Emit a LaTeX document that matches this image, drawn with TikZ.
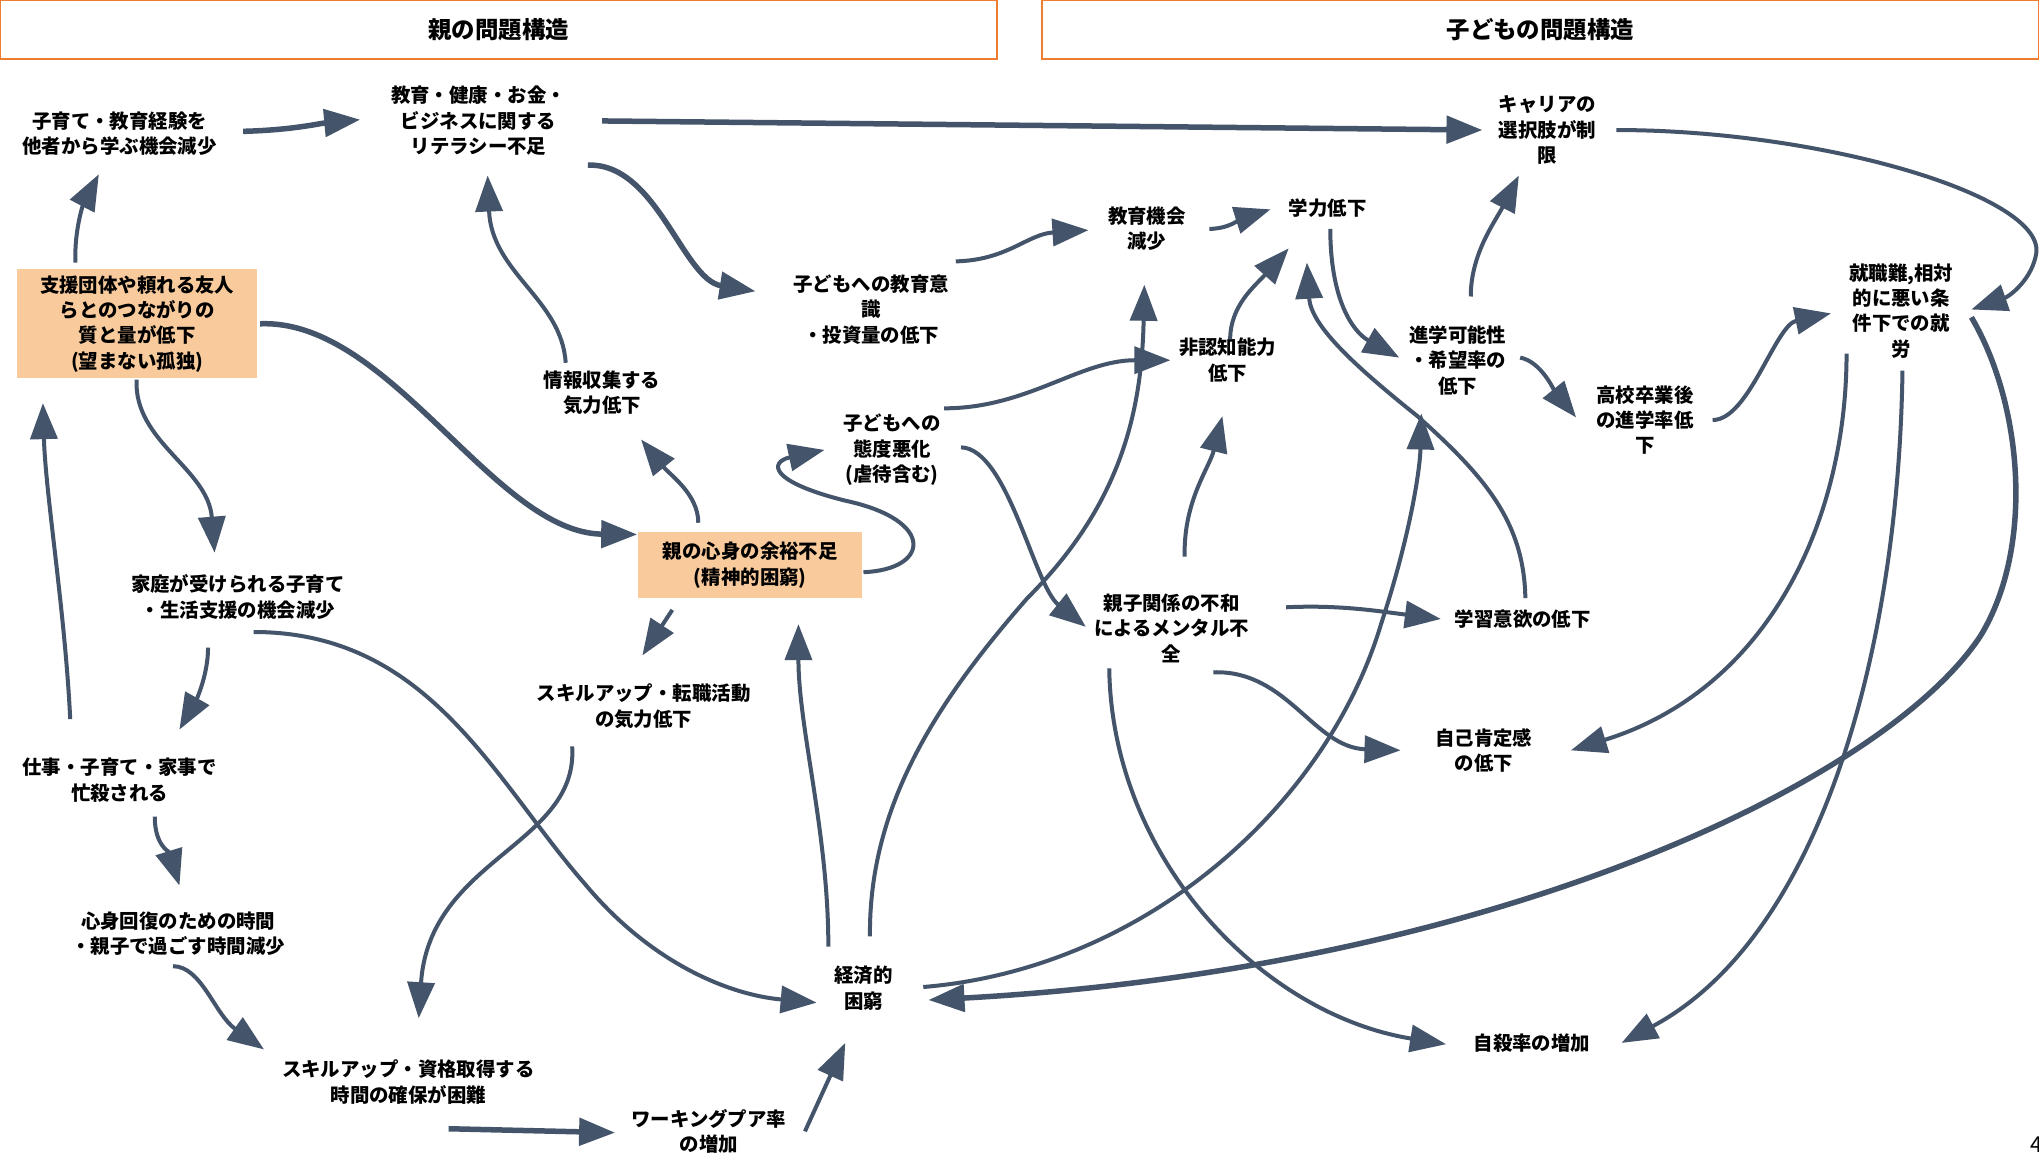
\documentclass[tikz,border=0pt]{standalone}
\usepackage{fontspec}
\setmainfont{Noto Sans CJK JP}
\usetikzlibrary{arrows.meta,calc}
\definecolor{lnc}{HTML}{44546A}
\definecolor{boxc}{HTML}{F9CB9C}
\definecolor{hdrc}{HTML}{ED7D31}
\begin{document}
\begin{tikzpicture}[x=1.3004bp,y=-1.3004bp,
  lbl/.style={align=center,font=\fontsize{19.5}{25.5}\selectfont\bfseries,inner sep=0pt},
  hl/.style={lbl,fill=boxc},
  hdrbox/.style={draw=hdrc,line width=2bp,fill=white,minimum width=997.4bp,minimum height=58.5bp,font=\fontsize{23.5}{26}\selectfont\bfseries},
  con/.style={draw=lnc,line width=4bp,-{Triangle[length=36bp,width=27bp]}},
  thk/.style={con,line width=5.5bp}
]
\useasboundingbox[fill=white] (0,0) rectangle (1568,891);
% headers
\node[hdrbox] (h1) at (383.5,22.5) {親の問題構造};
\node[hdrbox] (h2) at (1184.5,22.5) {子どもの問題構造};
% nodes
\node[lbl] (n1) at (92,103) {子育て・教育経験を\\他者から学ぶ機会減少};
\node[lbl] (n2) at (368,93) {教育・健康・お金・\\ビジネスに関する\\リテラシー不足};
\node[hl,minimum width=240.6bp,minimum height=109.2bp] (n3) at (105.5,249) {支援団体や頼れる友人\\らとのつながりの\\質と量が低下\\(望まない孤独)};
\node[lbl] (n4) at (463,302) {情報収集する\\気力低下};
\node[lbl] (n5) at (670,238) {子どもへの教育意\\識\\・投資量の低下};
\node[lbl] (n6) at (882,176) {教育機会\\減少};
\node[lbl] (n7) at (1021,160) {学力低下};
\node[lbl] (n8) at (1190,100) {キャリアの\\選択肢が制\\限};
\node[lbl] (n9) at (944,277) {非認知能力\\低下};
\node[lbl] (n10) at (1121,277) {進学可能性\\・希望率の\\低下};
\node[lbl] (n11) at (1265,323) {高校卒業後\\の進学率低\\下};
\node[lbl] (n12) at (1462,239) {就職難,相対\\的に悪い条\\件下での就\\労};
\node[lbl] (n13) at (686,346) {子どもへの\\態度悪化\\(虐待含む)};
\node[hl,minimum width=223.7bp,minimum height=66.3bp] (n14) at (577,434.5) {親の心身の余裕不足\\(精神的困窮)};
\node[lbl] (n15) at (183,459) {家庭が受けられる子育て\\・生活支援の機会減少};
\node[lbl] (n16) at (495,543) {スキルアップ・転職活動\\の気力低下};
\node[lbl] (n17) at (901,483) {親子関係の不和\\によるメンタル不\\全};
\node[lbl] (n18) at (1171,476) {学習意欲の低下};
\node[lbl] (n19) at (1141,577) {自己肯定感\\の低下};
\node[lbl] (n20) at (92,600) {仕事・子育て・家事で\\忙殺される};
\node[lbl] (n21) at (137,718) {心身回復のための時間\\・親子で過ごす時間減少};
\node[lbl] (n22) at (664,760) {経済的\\困窮};
\node[lbl] (n23) at (1178,802) {自殺率の増加};
\node[lbl] (n24) at (314,832) {スキルアップ・資格取得する\\時間の確保が困難};
\node[lbl] (n25) at (545,870) {ワーキングプア率\\の増加};
\node[font=\fontsize{22}{24}\selectfont,anchor=west,inner sep=0pt] (pg) at (1561,880) {4};
% connectors
\draw[thk] ($(n1)+(95,-2)$) .. controls (225,100) and (245,95) .. ($(n2)+(-91,-1)$);
\draw[thk] ($(n2)+(95,0)$) -- ($(n8)+(-50,0)$);
\draw[thk] ($(n2)+(84,34)$) .. controls (505,125) and (525,215) .. ($(n5)+(-89,-14)$);
\draw[con] ($(n3)+(-47.5,-47)$) .. controls (57,175) and (65,155) .. ($(n1)+(-16,31)$);
\draw[con] ($(n20)+(-38,-47)$) .. controls (50,470) and (35,380) .. ($(n3)+(-72.5,61)$);
\draw[con] ($(n3)+(-0.5,43)$) .. controls (103,340) and (160,360) .. ($(n15)+(-18,-34)$);
\draw[thk] ($(n3)+(94.5,0)$) .. controls (300,245) and (380,410) .. ($(n14)+(-87,-23.5)$);
\draw[con] ($(n14)+(-40,-32.5)$) .. controls (537,380) and (515,365) .. ($(n4)+(30,36)$);
\draw[con] ($(n4)+(-28,-23)$) .. controls (432,230) and (378,210) .. ($(n2)+(7,42)$);
\draw[con] ($(n5)+(65,-37)$) .. controls (775,200) and (790,180) .. ($(n6)+(-45,1)$);
\draw[con] ($(n6)+(48,0)$) .. controls (945,176) and (955,168) .. ($(n7)+(-44,1)$);
\draw[con] ($(n22)+(5,-40)$) .. controls (668,620) and (720,540) .. (790,460) .. controls (860,390) and (878,320) .. ($(n6)+(-2,43)$);
\draw[con] ($(n13)+(40,-32)$) .. controls (790,314) and (830,277) .. ($(n9)+(-44,0)$);
\draw[con] ($(n9)+(2,-16)$) .. controls (946,235) and (965,220) .. ($(n7)+(-30,31)$);
\draw[con] ($(n17)+(10,-55)$) .. controls (910,385) and (930,360) .. ($(n9)+(-4,43)$);
\draw[con] ($(n7)+(2,16)$) .. controls (1023,230) and (1040,255) .. ($(n10)+(-45,-2)$);
\draw[con] ($(n18)+(2,-16)$) .. controls (1172,400) and (1140,365) .. (1090,320) .. controls (1040,280) and (1008,250) .. ($(n7)+(-16,42)$);
\draw[con] ($(n10)+(10,-49)$) .. controls (1131,195) and (1150,170) .. ($(n8)+(-22,35)$);
\draw[con] ($(n10)+(48,-2)$) .. controls (1185,278) and (1195,300) .. ($(n11)+(-53,-2)$);
\draw[con] ($(n11)+(52,0)$) .. controls (1345,323) and (1365,250) .. ($(n12)+(-54,2)$);
\draw[con] ($(n8)+(53,0)$) .. controls (1400,100) and (1570,150) .. (1566,194) .. controls (1563,215) and (1545,228) .. ($(n12)+(54,-1)$);
\draw[con] ($(n12)+(-42,33)$) .. controls (1420,400) and (1360,530) .. ($(n19)+(67,0)$);
\draw[con] ($(n12)+(1,46)$) .. controls (1460,500) and (1400,720) .. ($(n23)+(69,0)$);
\draw[thk] ($(n12)+(54,5)$) .. controls (1555,310) and (1565,420) .. (1523,489) .. controls (1450,600) and (1150,745) .. ($(n22)+(50,9)$);
\draw[con] ($(n17)+(-48,31)$) .. controls (855,660) and (970,780) .. ($(n23)+(-66,1)$);
\draw[con] ($(n17)+(88,-16)$) .. controls (1030,465) and (1060,470) .. ($(n18)+(-63,0)$);
\draw[con] ($(n17)+(32,34)$) .. controls (990,515) and (1010,575) .. ($(n19)+(-64,0)$);
\draw[con] ($(n13)+(53,-2)$) .. controls (775,345) and (795,450) .. ($(n17)+(-66,-1)$);
\draw[con] ($(n14)+(87,5.5)$) .. controls (715,438) and (720,400) .. (650,385) .. controls (590,370) and (592,355) .. ($(n13)+(-52,0)$);
\draw[con] ($(n14)+(-60,34.5)$) -- ($(n16)+(-1,-39)$);
\draw[con] ($(n22)+(-27,-32)$) .. controls (637,640) and (614,560) .. ($(n14)+(37,45.5)$);
\draw[con] ($(n16)+(-55,31)$) .. controls (445,650) and (330,660) .. ($(n24)+(8,-49)$);
\draw[con] ($(n15)+(12,27)$) .. controls (330,486) and (380,600) .. (450,680) .. controls (500,740) and (560,765) .. ($(n22)+(-36,11)$);
\draw[con] ($(n15)+(-23,39)$) .. controls (160,520) and (150,540) .. ($(n20)+(46,-39)$);
\draw[con] ($(n20)+(27,28)$) .. controls (119,650) and (130,655) .. ($(n21)+(1,-37)$);
\draw[con] ($(n21)+(-4,25)$) .. controls (155,743) and (165,780) .. ($(n24)+(-111,-25)$);
\draw[thk] ($(n24)+(31,36)$) -- ($(n25)+(-72,1)$);
\draw[con] ($(n25)+(74,0)$) -- ($(n22)+(-14,42)$);
\draw[con] ($(n22)+(46,-1)$) .. controls (880,745) and (1020,620) .. (1062,480) .. controls (1085,410) and (1092,360) .. ($(n10)+(-28,41)$);
\end{tikzpicture}
\end{document}
